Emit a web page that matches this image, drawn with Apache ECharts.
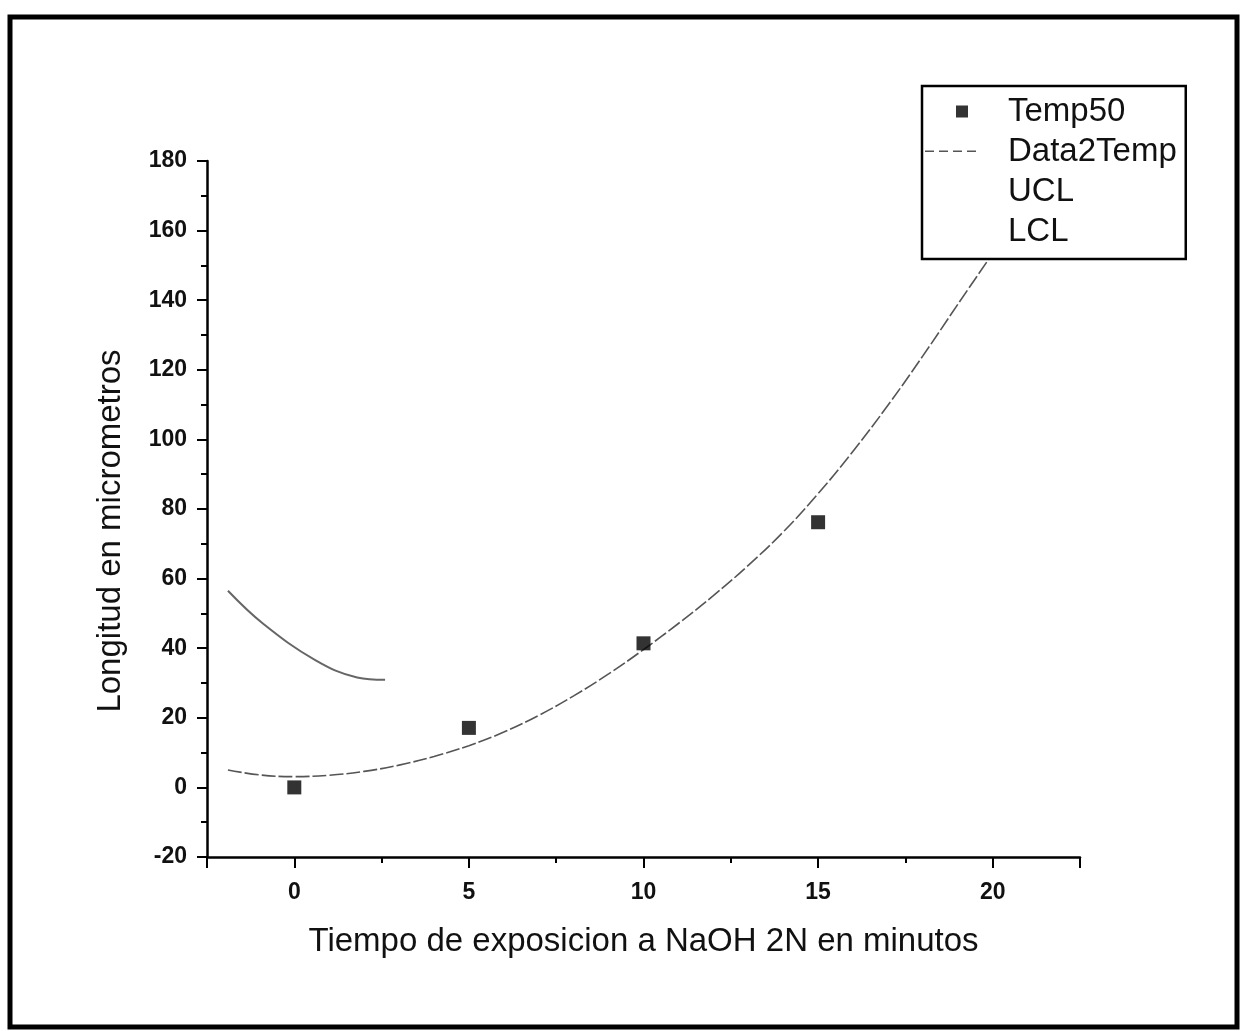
<!DOCTYPE html>
<html>
<head>
<meta charset="utf-8">
<script src="https://cdn.jsdelivr.net/npm/echarts@6/dist/echarts.min.js"></script>
<style>
  html, body { margin: 0; padding: 0; background: #fff; }
  #chart { width: 1240px; height: 1031px; }
</style>
</head>
<body>
<div id="chart"></div>
<script>
// Measured lengths (micrometres) after exposure to 2N NaOH
const timeMinutes = [0, 5, 10, 15];
const temp50Length = [0, 17.1, 41.4, 76.2];

// Fitted curve (Data2Temp)
const fitX = [-1.9, -1, 0, 1, 2, 3, 4, 5, 6, 7, 8, 9, 10, 11, 12, 13, 14, 15, 16, 17, 18, 19, 19.9];
const fitY = [5.0, 3.6, 3.1, 3.5, 4.6, 6.4, 8.9, 12.0, 15.9, 20.7, 26.3, 32.6, 39.6, 47.1, 55.1, 63.8, 73.4, 84.4, 96.6, 109.8, 124.0, 138.8, 152.0];

// Control limits
const uclX = [-1.9, -0.9, 0.6, 1.8, 2.6];
const uclY = [56.5, 47.1, 36.6, 31.6, 30.9];
const lclX = [];
const lclY = [];

// Axis ranges and ticks
const xRange = [-2.5, 22.5];
const yRange = [-20, 180];
const yStep = 20;
const xMinorStep = 2.5;
const xMajorTicks = [-2.5, 0, 5, 10, 15, 20, 22.5];
const xTickLabels = [0, 5, 10, 15, 20];

const pairs = (xs, ys) => xs.map((x, i) => [x, ys[i]]);

const FONT = "'Liberation Sans', Arial, sans-serif";
const tickLabelStyle = { fontFamily: FONT, fontSize: 23, fontWeight: 'bold', color: '#111' };

const chart = echarts.init(document.getElementById('chart'), null, { renderer: 'canvas' });

chart.setOption({
  animation: false,
  backgroundColor: '#fff',
  grid: { left: 207, top: 161, width: 873, height: 696, containLabel: false },
  xAxis: [
    {
      // short ticks every 2.5 min, plus the axis line, labels and title
      type: 'value',
      min: xRange[0], max: xRange[1], interval: xMinorStep,
      position: 'bottom',
      axisLine: { show: true, onZero: false, lineStyle: { color: '#000', width: 2.5 } },
      axisTick: { show: true, inside: false, length: 6, lineStyle: { color: '#000', width: 2 } },
      axisLabel: {
        ...tickLabelStyle, margin: 24,
        customValues: xTickLabels
      },
      splitLine: { show: false },
      name: 'Tiempo de exposicion a NaOH 2N en minutos',
      nameLocation: 'middle',
      nameGap: 68,
      nameTextStyle: { fontFamily: FONT, fontSize: 33, color: '#111' }
    },
    {
      // long ticks at the labelled positions
      type: 'value',
      min: xRange[0], max: xRange[1],
      position: 'bottom',
      axisLine: { show: false, onZero: false },
      axisTick: { show: true, inside: false, length: 11, customValues: xMajorTicks, lineStyle: { color: '#000', width: 2 } },
      axisLabel: { show: false },
      splitLine: { show: false }
    }
  ],
  yAxis: {
    type: 'value',
    min: yRange[0], max: yRange[1], interval: yStep,
    axisLine: { show: true, onZero: false, lineStyle: { color: '#000', width: 2.5 } },
    axisTick: { show: true, inside: false, length: 10, lineStyle: { color: '#000', width: 2 } },
    minorTick: { show: true, splitNumber: 2, length: 6, lineStyle: { color: '#000', width: 2 } },
    axisLabel: { ...tickLabelStyle, margin: 20 },
    splitLine: { show: false },
    minorSplitLine: { show: false },
    name: 'Longitud en micrometros',
    nameLocation: 'middle',
    nameGap: 80,
    nameTextStyle: { fontFamily: FONT, fontSize: 33, color: '#111', padding: [0, 44, 0, 0] }
  },
  legend: {
    left: 922, top: 86,
    orient: 'vertical',
    backgroundColor: '#fff',
    borderColor: '#000', borderWidth: 2.5, borderRadius: 0,
    padding: [9, 9, 11, 3],
    itemWidth: 52, itemHeight: 14, itemGap: 7,
    selectedMode: false,
    textStyle: { fontFamily: FONT, fontSize: 33, color: '#111', lineHeight: 33, padding: [0, 0, 0, 26] },
    data: [
      { name: 'Temp50', icon: 'path://M0,0M52,14M31,1h12v12h-12z' },
      { name: 'Data2Temp', icon: 'path://M0,0M52,14M0,6h9v1.6h-9zM14,6h9v1.6h-9zM28,6h9v1.6h-9zM42,6h9v1.6h-9z' },
      { name: 'UCL', icon: 'rect', itemStyle: { opacity: 0 } },
      { name: 'LCL', icon: 'rect', itemStyle: { opacity: 0 } }
    ],
    z: 10
  },
  graphic: [
    {
      type: 'rect',
      silent: true,
      z: -1,
      shape: { x: 10, y: 17, width: 1227, height: 1010 },
      style: { fill: 'none', stroke: '#000', lineWidth: 5 }
    }
  ],
  series: [
    {
      name: 'Temp50',
      type: 'scatter',
      xAxisIndex: 0,
      symbol: 'rect',
      symbolSize: 14,
      itemStyle: { color: '#000' },
      data: pairs(timeMinutes, temp50Length),
      z: 5
    },
    {
      name: 'Data2Temp',
      type: 'line',
      xAxisIndex: 0,
      smooth: 0.4,
      showSymbol: false,
      symbol: 'none',
      color: '#555',
      lineStyle: { color: '#555', width: 1.6, type: [14, 3] },
      data: pairs(fitX, fitY),
      z: 3
    },
    {
      name: 'UCL',
      type: 'line',
      xAxisIndex: 0,
      smooth: 0.4,
      symbol: 'none',
      color: '#666',
      lineStyle: { color: '#666', width: 2 },
      data: pairs(uclX, uclY),
      z: 3
    },
    {
      name: 'LCL',
      type: 'line',
      xAxisIndex: 0,
      symbol: 'none',
      color: '#666',
      lineStyle: { color: '#666', width: 2 },
      data: pairs(lclX, lclY)
    }
  ]
});
</script>
</body>
</html>
